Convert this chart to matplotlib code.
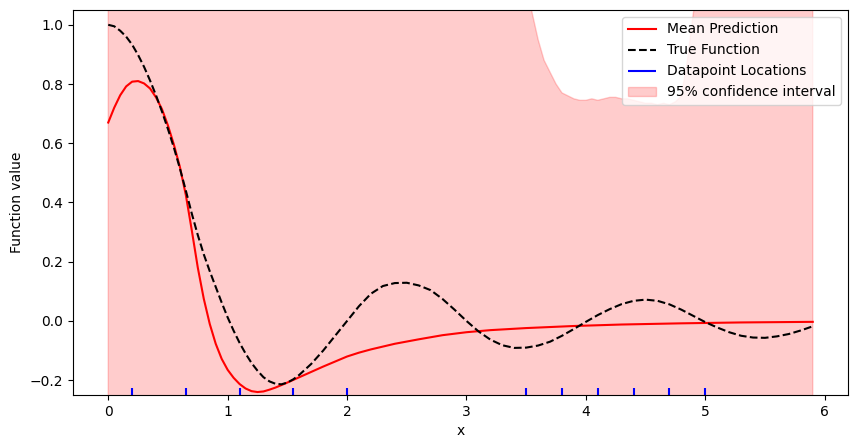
import matplotlib
matplotlib.use('Agg')
import matplotlib.pyplot as plt

# Mean prediction
mean_x = [0.0, 0.05, 0.1, 0.15, 0.2, 0.25, 0.3, 0.35, 0.4, 0.45, 0.5, 0.55,
          0.6, 0.65, 0.7, 0.75, 0.8, 0.85, 0.9, 0.95, 1.0, 1.05, 1.1, 1.15,
          1.2, 1.25, 1.3, 1.35, 1.4, 1.5, 1.6, 1.7, 1.8, 1.9, 2.0, 2.1, 2.2,
          2.4, 2.6, 2.8, 3.0, 3.2, 3.5, 3.9, 4.3, 4.8, 5.3, 5.9]
mean_y = [0.67, 0.72, 0.762, 0.792, 0.808, 0.81, 0.802, 0.785, 0.755, 0.715,
          0.66, 0.595, 0.52, 0.425, 0.305, 0.18, 0.075, -0.01, -0.077,
          -0.128, -0.165, -0.192, -0.213, -0.228, -0.237, -0.240, -0.238,
          -0.232, -0.225, -0.208, -0.19, -0.172, -0.154, -0.137, -0.12,
          -0.107, -0.096, -0.077, -0.062, -0.048, -0.038, -0.031, -0.024,
          -0.017, -0.012, -0.008, -0.005, -0.003]

# True function
true_x = [0.0, 0.05, 0.1, 0.15, 0.2, 0.25, 0.3, 0.35, 0.4, 0.45, 0.5, 0.55,
          0.6, 0.65, 0.7, 0.75, 0.8, 0.85, 0.9, 0.95, 1.0, 1.05, 1.1, 1.15,
          1.2, 1.25, 1.3, 1.35, 1.4, 1.45, 1.5, 1.55, 1.6, 1.7, 1.8,
          1.9, 2.0, 2.1, 2.2, 2.3, 2.4, 2.5, 2.6, 2.7, 2.8, 2.9, 3.0, 3.1,
          3.2, 3.3, 3.4, 3.5, 3.6, 3.7, 3.8, 3.9, 4.0, 4.1, 4.2, 4.3, 4.4,
          4.5, 4.6, 4.7, 4.8, 4.9, 5.0, 5.1, 5.2, 5.3, 5.4, 5.5, 5.6, 5.7,
          5.8, 5.9]
true_y = [1.0, 0.995, 0.98, 0.96, 0.933, 0.898, 0.858, 0.812, 0.762, 0.707,
          0.648, 0.585, 0.515, 0.44, 0.362, 0.29, 0.225, 0.168, 0.115, 0.062,
          0.012, -0.033, -0.074, -0.11, -0.142, -0.168, -0.19, -0.204,
          -0.212, -0.214, -0.208, -0.197, -0.182, -0.145, -0.1,
          -0.05, 0.0, 0.05, 0.092, 0.118, 0.128, 0.129, 0.12, 0.104, 0.074,
          0.038, 0.0, -0.035, -0.063, -0.082, -0.091, -0.09, -0.083,
          -0.07, -0.05, -0.027, -0.003, 0.02, 0.04, 0.057, 0.068, 0.072,
          0.068, 0.056, 0.038, 0.017, -0.004, -0.022, -0.038, -0.05, -0.056,
          -0.057, -0.052, -0.044, -0.032, -0.018]

# 95% confidence band (only the visible part of the upper edge is readable)
ci_x = [0.0, 3.45, 3.55, 3.6, 3.65, 3.7, 3.75, 3.8, 3.85, 3.9, 3.95, 4.0,
        4.05, 4.1, 4.15, 4.2, 4.25, 4.3, 4.35, 4.4, 4.45, 4.5, 4.55, 4.6,
        4.65, 4.7, 4.75, 4.8, 4.85, 4.9, 4.95, 5.05, 5.9]
ci_upper = [3.0, 1.25, 1.04, 0.95, 0.88, 0.84, 0.80, 0.77, 0.76, 0.75, 0.745,
            0.745, 0.75, 0.745, 0.75, 0.755, 0.755, 0.75, 0.75, 0.745, 0.74,
            0.735, 0.735, 0.73, 0.735, 0.73, 0.74, 0.76, 0.88, 1.04, 1.15,
            1.4, 3.0]
ci_lower = [-1.0, -0.6, -0.5, -0.5, -0.5, -0.5, -0.5, -0.5, -0.5, -0.5, -0.5,
            -0.5, -0.5, -0.5, -0.5, -0.5, -0.5, -0.5, -0.5, -0.5, -0.5, -0.5,
            -0.5, -0.5, -0.5, -0.5, -0.5, -0.5, -0.5, -0.5, -0.5, -0.6, -1.0]

# Datapoint locations
data_x = [0.2, 0.65, 1.1, 1.55, 2.0, 3.5, 3.8, 4.1, 4.4, 4.7, 5.0]

fig = plt.figure(figsize=(8.57, 4.48), dpi=100)
ax = fig.add_axes([0.0852, 0.1183, 0.9043, 0.8594])

ax.plot(mean_x, mean_y, color='red', label='Mean Prediction')
ax.plot(true_x, true_y, 'k--', label='True Function')
ax.vlines(data_x, -0.25, -0.225, colors='blue', linewidth=1.5,
          label='Datapoint Locations')
ax.fill_between(ci_x, ci_lower, ci_upper, color='red', alpha=0.2,
                label='95% confidence interval')

ax.set_xlim(-0.295, 6.195)
ax.set_ylim(-0.25, 1.05)
ax.set_xlabel('x')
ax.set_ylabel('Function value')
ax.legend(loc='upper right')

fig.savefig('out.png', dpi=100)
